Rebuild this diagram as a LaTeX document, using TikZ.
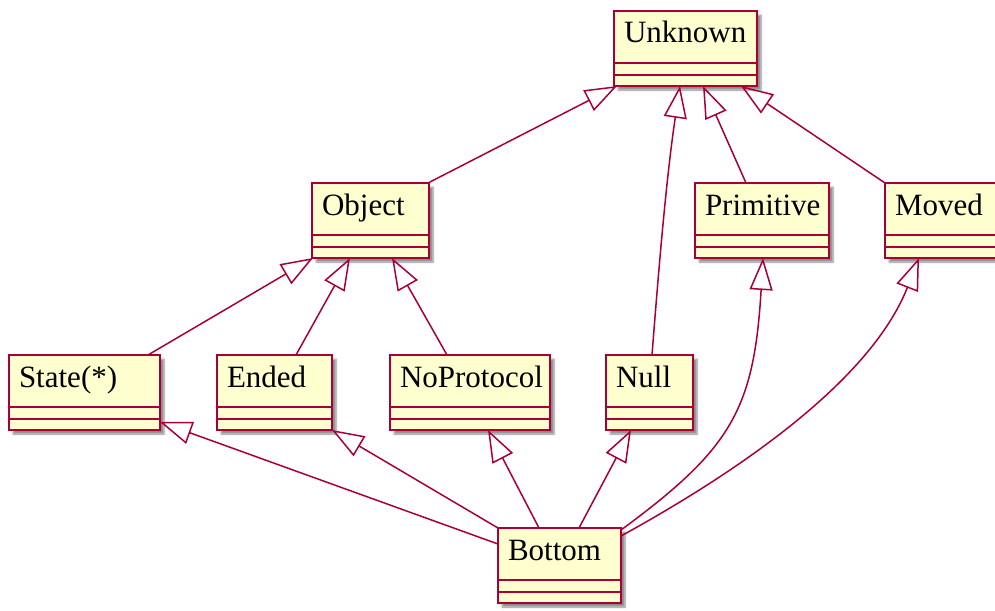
\documentclass[tikz,border=0pt]{standalone}
\usepackage{fontspec}
\setmainfont{Liberation Serif}
\usetikzlibrary{arrows.meta,shadows.blur}
\definecolor{umlred}{HTML}{A80036}
\definecolor{umlfill}{HTML}{FEFECE}
\tikzset{
  cls/.style={draw=umlred, fill=umlfill, line width=2.2pt, rectangle, inner sep=0pt, outer sep=0pt,
    minimum height=75pt, anchor=north west,
    blur shadow={shadow xshift=4pt, shadow yshift=-4pt, shadow blur steps=6, shadow opacity=45}},
  txt/.style={anchor=base west, inner sep=0pt, outer sep=0pt, font=\fontsize{31}{36}\selectfont},
  sepline/.style={draw=umlred, line width=2pt},
  inh/.style={draw=umlred, line width=1.5pt, -{Triangle[open, length=32pt, width=23pt]}},
}
\newcommand\umlclass[5]{%
  \node[cls, minimum width=#4pt] (#1) at (#2,#3) {};
  \node[txt] (#1-t) at ([xshift=10pt,yshift=-32pt]#1.north west) {#5};
  \draw[sepline] ([yshift=-52pt]#1.north west) -- ([yshift=-52pt]#1.north east);
  \draw[sepline] ([yshift=-64pt]#1.north west) -- ([yshift=-64pt]#1.north east);
}
\begin{document}
\begin{tikzpicture}[x=1pt,y=-1pt]
\useasboundingbox (0,0) rectangle (995,610);
\umlclass{Unknown}{614}{11}{143}{Unknown}
\umlclass{Object}{312}{183}{117}{Object}
\umlclass{Primitive}{695}{183}{134}{Primitive}
\umlclass{Moved}{885}{183}{130}{Moved}
\umlclass{State}{9}{355}{151}{State(*)}
\umlclass{Ended}{217}{355}{115}{Ended}
\umlclass{NoProtocol}{390}{355}{160}{NoProtocol}
\umlclass{Null}{606}{355}{87}{Null}
\umlclass{Bottom}{498}{528}{123}{Bottom}

% to Unknown
\draw[inh] ([xshift=-1pt]Object.north east) -- ([xshift=3pt]Unknown.south west);
\draw[inh] ([xshift=46pt]Null.north west) .. controls +(7,-90) and +(-13.5,90) .. ([xshift=66pt]Unknown.south west);
\draw[inh] ([xshift=51pt]Primitive.north west) -- ([xshift=89pt]Unknown.south west);
\draw[inh] (Moved.north west) -- ([xshift=127pt]Unknown.south west);
% to Object
\draw[inh] ([xshift=139pt]State.north west) -- ([xshift=1pt]Object.south west);
\draw[inh] ([xshift=79pt]Ended.north west) -- ([xshift=38pt]Object.south west);
\draw[inh] ([xshift=57pt]NoProtocol.north west) -- ([xshift=80pt]Object.south west);
% from Bottom
\draw[inh] ([yshift=-16pt]Bottom.north west) -- ([yshift=8pt]State.south east);
\draw[inh] (Bottom.north west) -- (Ended.south east);
\draw[inh] ([xshift=41pt]Bottom.north west) -- ([xshift=98pt]NoProtocol.south west);
\draw[inh] ([xshift=81pt]Bottom.north west) -- ([xshift=25pt]Null.south west);
\draw[inh] ([yshift=-2pt]Bottom.north east) .. controls +(110,-81) and +(-9,152) .. ([xshift=68pt]Primitive.south west);
\draw[inh] ([yshift=-8pt]Bottom.north east) .. controls +(140,-77) and +(-45,114) .. ([xshift=34pt]Moved.south west);
\end{tikzpicture}
\end{document}
